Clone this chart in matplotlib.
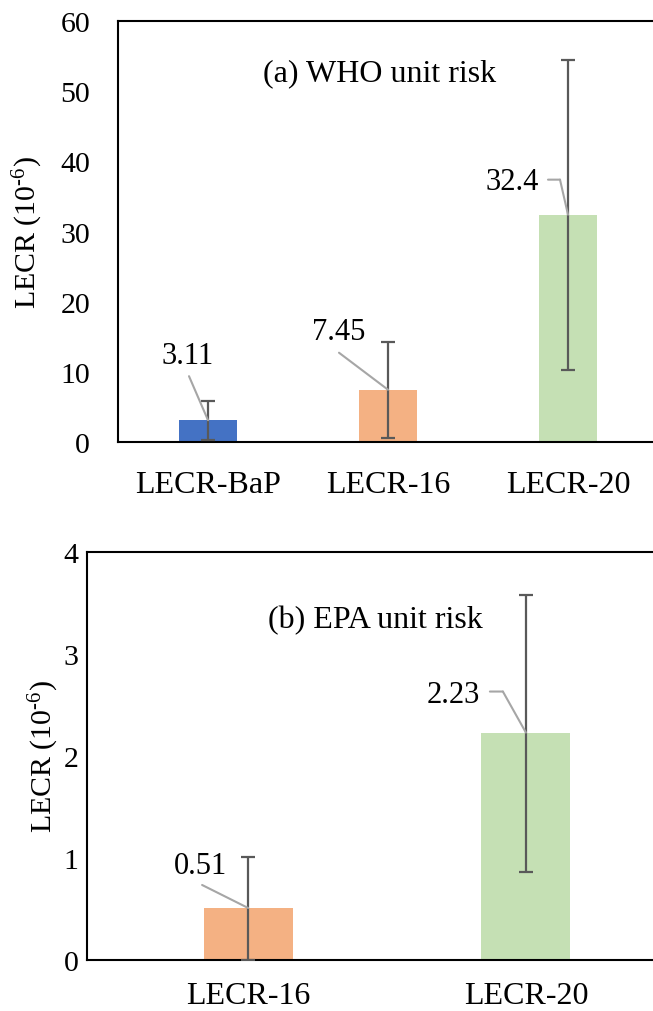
import numpy as np
import matplotlib
matplotlib.use("Agg")
import matplotlib.pyplot as plt
from matplotlib.transforms import offset_copy

plt.rcParams["font.family"] = ["Liberation Serif", "DejaVu Serif"]
plt.rcParams["mathtext.fontset"] = "custom"
plt.rcParams["mathtext.rm"] = "Liberation Serif"
plt.rcParams["mathtext.it"] = "Liberation Serif:italic"

# Panel (a): WHO unit risk
who_labels = ["LECR-BaP", "LECR-16", "LECR-20"]
who_values = [3.11, 7.45, 32.4]
who_low = [0.3, 0.5, 10.3]
who_high = [5.9, 14.2, 54.4]
who_colors = ["#4472C4", "#F4B183", "#C5E0B4"]

# Panel (b): EPA unit risk
epa_labels = ["LECR-16", "LECR-20"]
epa_values = [0.51, 2.23]
epa_low = [0.0, 0.86]
epa_high = [1.01, 3.58]
epa_colors = ["#F4B183", "#C5E0B4"]

# label placement (offset pixels from bar top): text offset, leader line points
who_text_off = [(-20, 65), (-49, 58), (-56, 33)]
who_line_pts = [[(-19, 44)], [(-49, 37)], [(-20, 35), (-8, 35)]]
epa_text_off = [(-48, 42), (-73, 38)]
epa_line_pts = [[(-46, 23)], [(-36, 41), (-23, 41)]]

fig = plt.figure(figsize=(6.53, 10.12), dpi=100)
ax1 = fig.add_axes([118 / 653, 1 - 443 / 1012, 540 / 653, 421 / 1012])
ax2 = fig.add_axes([87 / 653, 1 - 961 / 1012, 600 / 653, 408 / 1012])

TICK_FS = 21.5
XLAB_FS = 23
VAL_FS = 22
TITLE_FS = 23
LEADER = "#A6A6A6"


def draw_panel(ax, labels, values, low, high, colors, text_off, line_pts,
               xpad, ylim, yticks, title, title_pos, ytick_pad, xtick_pad,
               ylabel_x):
    x = np.arange(len(labels))
    values = np.array(values)
    yerr = np.array([values - np.array(low), np.array(high) - values])
    ax.bar(x, values, width=0.32, color=colors, zorder=2)
    ax.errorbar(x, values, yerr=yerr, fmt="none", ecolor="#595959",
                elinewidth=1.6, capsize=5, capthick=1.6, zorder=3)
    for xi, v, toff, pts in zip(x, values, text_off, line_pts):
        ax.annotate(f"{v:g}", xy=(xi, v), xytext=toff,
                    textcoords="offset pixels", ha="center", va="center",
                    fontsize=VAL_FS, zorder=5)
        chain = pts + [(0, 0)]
        for p0, p1 in zip(chain[:-1], chain[1:]):
            end_tr = offset_copy(ax.transData, fig=fig, x=p1[0], y=p1[1],
                                 units="dots")
            ax.annotate("", xy=(xi, v), xycoords=end_tr,
                        xytext=(p0[0] - p1[0], p0[1] - p1[1]),
                        textcoords="offset pixels",
                        arrowprops=dict(arrowstyle="-", color=LEADER, lw=1.5,
                                        shrinkA=0, shrinkB=0),
                        zorder=4)
    ax.set_xlim(-xpad, len(labels) - 1 + xpad)
    ax.set_ylim(*ylim)
    ax.set_yticks(yticks)
    ax.set_xticks(x)
    ax.set_xticklabels(labels, fontsize=XLAB_FS)
    ax.tick_params(axis="y", length=0, labelsize=TICK_FS, pad=ytick_pad)
    ax.tick_params(axis="x", length=0, pad=xtick_pad)
    for s in ["top", "left", "bottom"]:
        ax.spines[s].set_linewidth(1.5)
        ax.spines[s].set_color("black")
    ax.spines["right"].set_visible(False)
    ax.set_ylabel("LECR (10$^{\u20106}$)", fontsize=TICK_FS)
    ax.yaxis.set_label_coords(ylabel_x, 0.5)
    ax.text(title_pos[0], title_pos[1], title, transform=ax.transAxes,
            ha="center", va="center", fontsize=TITLE_FS)


draw_panel(ax1, who_labels, who_values, who_low, who_high, who_colors,
           who_text_off, who_line_pts, 0.5, (0, 60),
           [0, 10, 20, 30, 40, 50, 60],
           "(a) WHO unit risk", (0.485, 0.876), 20, 20, -0.135)
draw_panel(ax2, epa_labels, epa_values, epa_low, epa_high, epa_colors,
           epa_text_off, epa_line_pts, 0.58, (0, 4), [0, 1, 2, 3, 4],
           "(b) EPA unit risk", (0.48, 0.835), 6, 15, -0.044)

fig.savefig("out.png", dpi=100)
